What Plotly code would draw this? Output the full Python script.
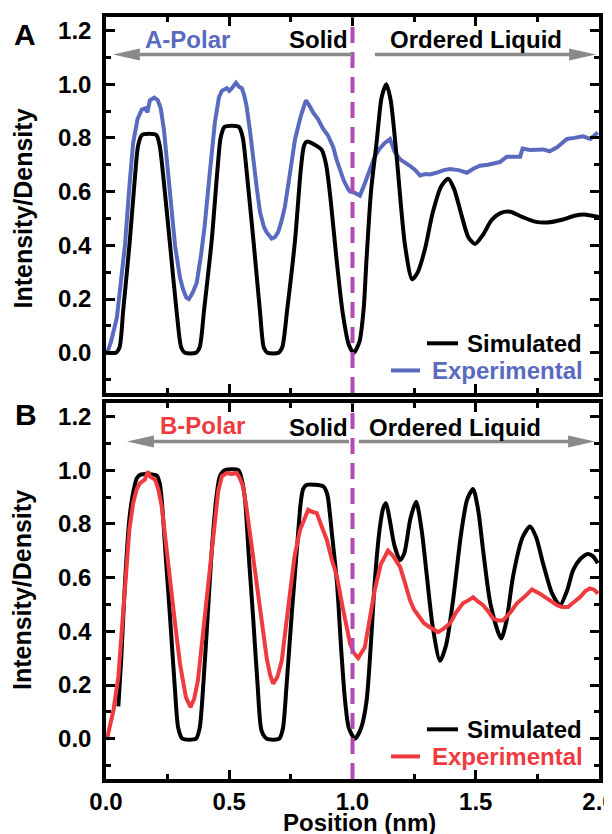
import plotly.graph_objects as go

# ---------------- data ----------------
a_sim_x = [0.000, 0.040, 0.055, 0.070, 0.095, 0.118, 0.130, 0.145, 0.175, 0.205, 0.218, 0.232, 0.260, 0.288, 0.305, 0.320,
           0.365, 0.380, 0.398, 0.429, 0.452, 0.465, 0.480, 0.510, 0.540, 0.555, 0.570, 0.600, 0.625, 0.640, 0.655,
           0.700, 0.715, 0.735, 0.767, 0.790, 0.803, 0.815, 0.845, 0.875, 0.893, 0.910, 0.935, 0.960, 0.985, 1.005,
           1.028, 1.045, 1.057, 1.075, 1.098, 1.118, 1.137, 1.155, 1.180, 1.213, 1.242, 1.265, 1.295, 1.325, 1.360,
           1.388, 1.412, 1.440, 1.470, 1.497, 1.530, 1.565, 1.600, 1.640, 1.690, 1.740, 1.790, 1.850, 1.900, 1.940, 2.000]
a_sim_y = [0.00, 0.00, 0.02, 0.16, 0.40, 0.66, 0.77, 0.81, 0.815, 0.81, 0.77, 0.66, 0.40, 0.14, 0.02, 0.00,
           0.00, 0.02, 0.16, 0.42, 0.68, 0.80, 0.84, 0.845, 0.84, 0.80, 0.68, 0.40, 0.15, 0.02, 0.00,
           0.00, 0.02, 0.16, 0.42, 0.68, 0.77, 0.786, 0.775, 0.755, 0.70, 0.58, 0.35, 0.15, 0.03, 0.00,
           0.04, 0.16, 0.35, 0.60, 0.785, 0.95, 1.00, 0.94, 0.72, 0.40, 0.273, 0.30, 0.39, 0.52, 0.62,
           0.648, 0.61, 0.52, 0.43, 0.405, 0.44, 0.495, 0.52, 0.525, 0.505, 0.488, 0.485, 0.495, 0.51, 0.515, 0.505]

a_exp_x = [0.005, 0.020, 0.044, 0.060, 0.077, 0.095, 0.110, 0.128, 0.145, 0.160, 0.168, 0.178, 0.196, 0.210, 0.222,
           0.235, 0.248, 0.265, 0.280, 0.300, 0.313, 0.326, 0.336, 0.350, 0.368, 0.385, 0.400, 0.420, 0.442, 0.458,
           0.470, 0.490, 0.500, 0.511, 0.520, 0.527, 0.540, 0.551, 0.560, 0.570, 0.585, 0.597, 0.612, 0.625, 0.640,
           0.652, 0.672, 0.685, 0.699, 0.712, 0.726, 0.745, 0.767, 0.790, 0.811, 0.825, 0.840, 0.860, 0.881, 0.900,
           0.922, 0.935, 0.949, 0.965, 0.982, 0.990, 1.010, 1.030, 1.050, 1.070, 1.090, 1.110, 1.130, 1.152, 1.170,
           1.193, 1.213, 1.233, 1.255, 1.274, 1.295, 1.314, 1.340, 1.370, 1.396, 1.430, 1.464, 1.490, 1.517, 1.550,
           1.598, 1.626, 1.655, 1.680, 1.690, 1.720, 1.773, 1.800, 1.830, 1.870, 1.900, 1.935, 1.965, 1.995]
a_exp_y = [0.00, 0.04, 0.13, 0.25, 0.40, 0.62, 0.78, 0.87, 0.905, 0.91, 0.895, 0.94, 0.95, 0.94, 0.91,
           0.83, 0.71, 0.55, 0.40, 0.28, 0.235, 0.205, 0.20, 0.22, 0.26, 0.36, 0.47, 0.66, 0.86, 0.95,
           0.975, 0.985, 0.975, 0.985, 1.00, 1.005, 0.99, 0.985, 0.96, 0.92, 0.82, 0.72, 0.61, 0.523, 0.47,
           0.448, 0.425, 0.43, 0.45, 0.49, 0.545, 0.66, 0.796, 0.88, 0.94, 0.92, 0.895, 0.87, 0.833, 0.81,
           0.765, 0.72, 0.684, 0.64, 0.61, 0.60, 0.595, 0.585, 0.63, 0.684, 0.73, 0.76, 0.78, 0.796, 0.75,
           0.72, 0.71, 0.696, 0.68, 0.66, 0.665, 0.664, 0.67, 0.68, 0.684, 0.68, 0.67, 0.685, 0.696, 0.70,
           0.71, 0.73, 0.73, 0.73, 0.76, 0.755, 0.757, 0.75, 0.765, 0.796, 0.80, 0.806, 0.796, 0.82]

b_sim_x = [0.050, 0.062, 0.077, 0.095, 0.110, 0.125, 0.140, 0.175, 0.206, 0.218, 0.226, 0.243, 0.260, 0.280, 0.293, 0.310,
           0.365, 0.380, 0.395, 0.412, 0.429, 0.448, 0.462, 0.483, 0.537, 0.552, 0.564, 0.580, 0.597, 0.615, 0.631, 0.652,
           0.703, 0.718, 0.733, 0.754, 0.774, 0.790, 0.800, 0.814, 0.881, 0.892, 0.900, 0.918, 0.937, 0.955, 0.970,
           0.985, 1.010, 1.035, 1.057, 1.075, 1.090, 1.110, 1.125, 1.136, 1.150, 1.170, 1.193, 1.210, 1.235, 1.258,
           1.280, 1.302, 1.325, 1.355, 1.380, 1.408, 1.440, 1.465, 1.489, 1.510, 1.530, 1.560, 1.603, 1.625, 1.651,
           1.690, 1.720, 1.745, 1.773, 1.810, 1.842, 1.870, 1.895, 1.925, 1.955, 1.975, 1.995]
b_sim_y = [0.12, 0.30, 0.58, 0.82, 0.915, 0.97, 0.983, 0.985, 0.98, 0.95, 0.89, 0.67, 0.45, 0.18, 0.04, 0.00,
           0.00, 0.04, 0.205, 0.45, 0.70, 0.90, 0.977, 1.00, 1.00, 0.96, 0.89, 0.67, 0.45, 0.20, 0.03, 0.00,
           0.00, 0.04, 0.205, 0.47, 0.70, 0.88, 0.93, 0.945, 0.94, 0.925, 0.90, 0.75, 0.58, 0.32, 0.14,
           0.04, 0.00, 0.04, 0.14, 0.36, 0.58, 0.78, 0.86, 0.877, 0.82, 0.72, 0.665, 0.69, 0.82, 0.882,
           0.78, 0.603, 0.42, 0.29, 0.35, 0.516, 0.76, 0.89, 0.93, 0.85, 0.70, 0.50, 0.373, 0.44, 0.603,
           0.75, 0.79, 0.75, 0.653, 0.54, 0.497, 0.55, 0.628, 0.67, 0.688, 0.68, 0.653]

b_exp_x = [0.003, 0.015, 0.030, 0.050, 0.063, 0.077, 0.095, 0.110, 0.125, 0.138, 0.158, 0.170, 0.180, 0.199, 0.212,
           0.226, 0.243, 0.260, 0.280, 0.300, 0.313, 0.324, 0.343, 0.358, 0.373, 0.390, 0.409, 0.425, 0.442, 0.455,
           0.470, 0.490, 0.510, 0.530, 0.543, 0.556, 0.570, 0.584, 0.600, 0.617, 0.635, 0.652, 0.665, 0.678, 0.695,
           0.713, 0.730, 0.746, 0.765, 0.787, 0.805, 0.820, 0.835, 0.855, 0.875, 0.896, 0.915, 0.937, 0.960, 0.982,
           0.990, 1.005, 1.023, 1.050, 1.070, 1.090, 1.115, 1.144, 1.165, 1.193, 1.213, 1.233, 1.250, 1.266, 1.290,
           1.314, 1.347, 1.370, 1.396, 1.420, 1.448, 1.470, 1.489, 1.510, 1.530, 1.550, 1.570, 1.590, 1.610, 1.640,
           1.667, 1.700, 1.728, 1.760, 1.789, 1.810, 1.830, 1.850, 1.874, 1.900, 1.923, 1.945, 1.963, 1.980, 1.996]
b_exp_y = [-0.005, 0.04, 0.105, 0.23, 0.40, 0.58, 0.78, 0.877, 0.93, 0.952, 0.965, 0.995, 0.975, 0.965, 0.93,
           0.865, 0.72, 0.58, 0.43, 0.28, 0.20, 0.155, 0.117, 0.15, 0.217, 0.36, 0.516, 0.68, 0.827, 0.92,
           0.977, 0.99, 0.985, 0.99, 0.97, 0.94, 0.86, 0.765, 0.64, 0.516, 0.40, 0.30, 0.24, 0.205, 0.23,
           0.29, 0.42, 0.553, 0.68, 0.777, 0.82, 0.852, 0.845, 0.84, 0.79, 0.74, 0.67, 0.603, 0.49, 0.378,
           0.355, 0.32, 0.30, 0.34, 0.45, 0.553, 0.65, 0.70, 0.68, 0.64, 0.58, 0.516, 0.48, 0.46, 0.43,
           0.415, 0.397, 0.41, 0.43, 0.47, 0.504, 0.515, 0.527, 0.51, 0.497, 0.475, 0.448, 0.44, 0.44, 0.47,
           0.504, 0.53, 0.556, 0.54, 0.523, 0.51, 0.497, 0.49, 0.49, 0.51, 0.527, 0.55, 0.56, 0.555, 0.54]

y_ticks = [0.0, 0.2, 0.4, 0.6, 0.8, 1.0, 1.2]
y_tick_labels = ["0.0", "0.2", "0.4", "0.6", "0.8", "1.0", "1.2"]
x_ticks = [0.0, 0.5, 1.0, 1.5, 2.0]
x_tick_labels = ["0.0", "0.5", "1.0", "1.5", "2.0"]

# ---------------- style ----------------
FONT = "Liberation Sans, Arial, Helvetica, sans-serif"
BLUE = "#5a6abf"
RED = "#ef3a3f"
PURPLE = "#b14bb3"
GRAY = "#8a8a8a"

# the page body adds an 8 px offset; size the figure so the plot lands where the reference has it
OFF = 8
W, H = 612, 834 - OFF
ML, MR, MT, MB = 106 - OFF, 13 + OFF, 17 - OFF, 55
PW = W - ML - MR
PH = H - MT - MB
PLOT_LEFT, PLOT_BOTTOM = 106, 779  # reference-pixel positions of the plot area
XR = [0.0, 2.0]
YR = [-0.15, 1.25]
px_per_x = PW / (XR[1] - XR[0])
px_per_y = 376 / (YR[1] - YR[0])

fig = go.Figure()

def add_line(x, y, color, width, axis, shape, smooth=0.7):
    fig.add_trace(go.Scatter(x=x, y=y, mode="lines", xaxis="x" + axis, yaxis="y" + axis,
                             line=dict(color=color, width=width, shape=shape,
                                       smoothing=smooth if shape == "spline" else None),
                             showlegend=False, hoverinfo="skip"))

add_line(a_exp_x, a_exp_y, BLUE, 4, "", "linear")
add_line(a_sim_x, a_sim_y, "black", 4, "", "spline")
add_line(b_sim_x, b_sim_y, "black", 4, "2", "spline")
add_line(b_exp_x, b_exp_y, RED, 4, "2", "linear")

axis_common = dict(range=XR, showline=True, linewidth=3.5, linecolor="black", mirror="ticks",
                   ticks="inside", ticklen=9, tickwidth=3, tickcolor="black",
                   showgrid=False, zeroline=False, automargin=False,
                   tickfont=dict(family=FONT, size=24, color="black", weight="bold"),
                   minor=dict(ticks="inside", ticklen=5, tickwidth=3, tickcolor="black", showgrid=False))

xa = dict(axis_common, tickvals=x_ticks, ticktext=x_tick_labels, minor=dict(axis_common["minor"], dtick=0.25))
ya = dict(axis_common, range=YR, tickvals=y_ticks, ticktext=y_tick_labels,
          minor=dict(axis_common["minor"], dtick=0.1, tick0=0.0), ticklabelstandoff=6)

domB = [0, 376 / PH]
domA = [1 - 376 / PH, 1]

fig.update_layout(
    width=W, height=H, margin=dict(l=ML, r=MR, t=MT, b=MB),
    paper_bgcolor="white", plot_bgcolor="white",
    xaxis=dict(xa, anchor="y", showticklabels=False),
    yaxis=dict(ya, domain=domA, anchor="x"),
    xaxis2=dict(xa, anchor="y2", ticklabelstandoff=-2),
    yaxis2=dict(ya, domain=domB, anchor="x2"),
)

shapes = []
annotations = []

def txt(text, x, y, xr, yr, size, color="black", xanchor="center", angle=0):
    annotations.append(dict(text=text, x=x, y=y, xref=xr, yref=yr, showarrow=False,
                            xanchor=xanchor, yanchor="middle", textangle=angle,
                            font=dict(family=FONT, size=size, color=color, weight="bold")))

def arrow(x_tail, x_tip, y, xr, yr):
    head_len = 27 / px_per_x
    head_half = 6 / px_per_y
    d = 1 if x_tip > x_tail else -1
    base = x_tip - d * head_len
    shapes.append(dict(type="line", xref=xr, yref=yr, x0=x_tail, x1=base, y0=y, y1=y,
                       line=dict(color=GRAY, width=3.5)))
    shapes.append(dict(type="path", xref=xr, yref=yr,
                       path=f"M {x_tip},{y} L {base},{y + head_half} L {base},{y - head_half} Z",
                       fillcolor=GRAY, line=dict(color=GRAY, width=0)))

def legend(xr, yr, exp_color):
    shapes.append(dict(type="line", xref=xr, yref=yr, x0=1.302, x1=1.428, y0=0.035, y1=0.035,
                       line=dict(color="black", width=4)))
    shapes.append(dict(type="line", xref=xr, yref=yr, x0=1.156, x1=1.274, y0=-0.066, y1=-0.066,
                       line=dict(color=exp_color, width=4)))
    txt("Simulated", 1.94, 0.035, xr, yr, 24, "black", "right")
    txt("Experimental", 1.945, -0.066, xr, yr, 24, exp_color, "right")

for ax, yd in (("x", "y"), ("x2", "y2")):
    shapes.append(dict(type="line", xref=ax, yref=yd + " domain", x0=1.0, x1=1.0, y0=0, y1=1,
                       line=dict(color=PURPLE, width=4, dash="16px,9px")))

# panel A texts / arrows
txt("A-Polar", 0.329, 1.166, "x", "y", 24, BLUE)
txt("Solid", 0.988, 1.166, "x", "y", 24, "black", "right")
txt("Ordered Liquid", 1.50, 1.166, "x", "y", 24)
arrow(1.0, 0.028, 1.11, "x", "y")
arrow(1.091, 1.988, 1.11, "x", "y")
legend("x", "y", BLUE)

# panel B texts / arrows
txt("B-Polar", 0.39, 1.166, "x2", "y2", 24, RED)
txt("Solid", 0.988, 1.16, "x2", "y2", 24, "black", "right")
txt("Ordered Liquid", 1.414, 1.16, "x2", "y2", 24)
arrow(0.986, 0.085, 1.107, "x2", "y2")
arrow(1.026, 1.984, 1.107, "x2", "y2")
legend("x2", "y2", RED)

def px_x(p):
    return (p - PLOT_LEFT) / PW

def px_y(p):
    return (PLOT_BOTTOM - p) / PH

# axis titles and panel letters
txt("Intensity/Density", px_x(22), px_y(208.5), "paper", "paper", 25, angle=-90)
txt("Intensity/Density", px_x(22), px_y(590), "paper", "paper", 25, angle=-90)
txt("Position (nm)", px_x(359), px_y(822), "paper", "paper", 24)
txt("A", px_x(25), px_y(34), "paper", "paper", 30)
txt("B", px_x(26), px_y(414), "paper", "paper", 30)

fig.update_layout(shapes=shapes, annotations=annotations)
fig.write_html("out.html")
